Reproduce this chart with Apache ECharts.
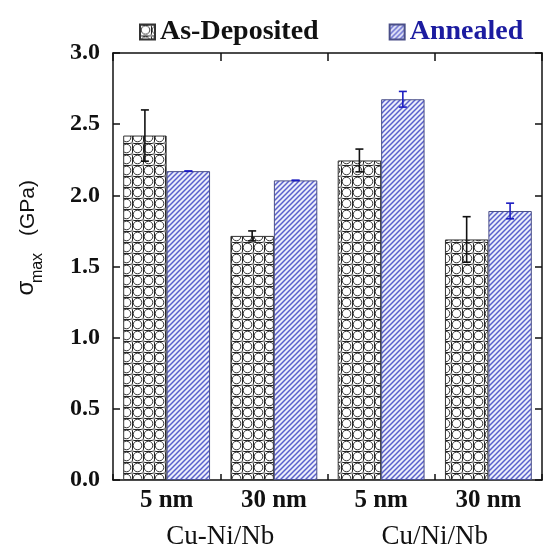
<!DOCTYPE html>
<html><head><meta charset="utf-8">
<script src="https://cdn.jsdelivr.net/npm/echarts@6/dist/echarts.min.js"></script>
<style>html,body{margin:0;padding:0;background:#fff}#c{width:543px;height:550px}</style>
</head><body><div id="c"></div>
<script>
const categories = ['5 nm', '30 nm', '5 nm', '30 nm'];
const groups = ['Cu-Ni/Nb', 'Cu/Ni/Nb'];
const deposited = [2.42, 1.715, 2.245, 1.69];
const depositedErr = [0.18, 0.035, 0.08, 0.16];
const annealed = [2.17, 2.105, 2.675, 1.89];
const annealedErr = [0, 0, 0.055, 0.055];
const yTicks = { min: 0, max: 3, interval: 0.5 };

function circlePattern() {
  const s = 11, c = document.createElement('canvas');
  c.width = s; c.height = s;
  const g = c.getContext('2d');
  g.fillStyle = '#fff'; g.fillRect(0, 0, s, s);
  g.strokeStyle = '#222'; g.lineWidth = 1;
  g.beginPath(); g.moveTo(0, 0.5); g.lineTo(s, 0.5); g.moveTo(0.5, 0); g.lineTo(0.5, s); g.stroke();
  g.fillStyle = '#fff';
  g.beginPath(); g.arc(5.5, 5.5, 4.3, 0, Math.PI * 2); g.fill();
  g.strokeStyle = '#333'; g.lineWidth = 1;
  g.beginPath(); g.arc(5.5, 5.5, 4.3, 0, Math.PI * 2); g.stroke();
  g.fillStyle = '#999';
  [[0, 0], [s, 0], [0, s], [s, s]].forEach(p => { g.beginPath(); g.arc(p[0], p[1], 1.6, 0, Math.PI * 2); g.fill(); });
  return c;
}
function hatchPattern() {
  const s = 5, c = document.createElement('canvas');
  c.width = s; c.height = s;
  const g = c.getContext('2d');
  g.fillStyle = '#eceefa'; g.fillRect(0, 0, s, s);
  g.strokeStyle = '#5a60cc'; g.lineWidth = 1.5;
  g.beginPath();
  g.moveTo(-1, s + 1); g.lineTo(s + 1, -1);
  g.moveTo(-1, 1); g.lineTo(1, -1);
  g.moveTo(s - 1, s + 1); g.lineTo(s + 1, s - 1);
  g.stroke();
  return c;
}

const GAP = 0.19;
function errRender(side, color) {
  return function (params, api) {
    const i = api.value(0);
    const lo = api.coord([i, api.value(1)]);
    const hi = api.coord([i, api.value(2)]);
    const band = api.size([1, 0])[0];
    const bw = band * (1 - GAP) / 2;
    const x = lo[0] + side * bw / 2;
    const cap = 4;
    const st = { stroke: color, lineWidth: 1.6 };
    return { type: 'group', children: [
      { type: 'line', shape: { x1: x, y1: lo[1], x2: x, y2: hi[1] }, style: st },
      { type: 'line', shape: { x1: x - cap, y1: lo[1], x2: x + cap, y2: lo[1] }, style: st },
      { type: 'line', shape: { x1: x - cap, y1: hi[1], x2: x + cap, y2: hi[1] }, style: st }
    ]};
  };
}

const serif = 'Liberation Serif';
const chart = echarts.init(document.getElementById('c'));
const axisLine = { show: true, lineStyle: { color: '#111', width: 1.5 } };
chart.setOption({
  animation: false,
  backgroundColor: '#fff',
  grid: { left: 113, right: 1, top: 53, bottom: 68, containLabel: false },
  legend: {
    top: 13, left: 134, itemWidth: 15, itemHeight: 15, itemGap: 70, icon: 'rect',
    textStyle: { fontFamily: serif, fontWeight: 'bold', fontSize: 28 },
    data: [
      { name: 'As-Deposited', textStyle: { color: '#111' } },
      { name: 'Annealed', textStyle: { color: '#1c1ca0' } }
    ]
  },
  xAxis: [
    { type: 'category', data: categories, position: 'bottom', axisLine,
      axisTick: { show: true, inside: true, length: 6, lineStyle: { color: '#111', width: 1.5 } },
      axisLabel: { margin: 8, fontFamily: serif, fontWeight: 'bold', fontSize: 25, color: '#111' } },
    { type: 'category', data: groups, position: 'bottom', axisLine: { show: false },
      axisTick: { show: false },
      axisLabel: { margin: 43, fontFamily: serif, fontSize: 27, color: '#111' } },
    { type: 'category', data: categories, position: 'top', axisLine,
      axisTick: { show: true, inside: true, length: 8, lineStyle: { color: '#111', width: 1.5 } },
      axisLabel: { show: false } }
  ],
  yAxis: [
    { type: 'value', min: yTicks.min, max: yTicks.max, interval: yTicks.interval, position: 'left',
      axisLine, splitLine: { show: false },
      axisTick: { show: true, inside: true, length: 7, lineStyle: { color: '#111', width: 1.5 } },
      axisLabel: { margin: 13, fontFamily: serif, fontWeight: 'bold', fontSize: 24, color: '#111',
        formatter: v => v.toFixed(1) } },
    { type: 'value', min: yTicks.min, max: yTicks.max, interval: yTicks.interval, position: 'right',
      axisLine, splitLine: { show: false },
      axisTick: { show: true, inside: true, length: 7, lineStyle: { color: '#111', width: 1.5 } },
      axisLabel: { show: false } }
  ],
  series: [
    { name: 'As-Deposited', type: 'bar', data: deposited, barGap: '0%', barCategoryGap: (GAP * 100) + '%',
      itemStyle: { color: { image: circlePattern(), repeat: 'repeat' }, borderColor: '#333', borderWidth: 1 } },
    { name: 'Annealed', type: 'bar', data: annealed, barGap: '0%', barCategoryGap: (GAP * 100) + '%',
      itemStyle: { color: { image: hatchPattern(), repeat: 'repeat' }, borderColor: '#4a4f88', borderWidth: 1 } },
    { type: 'custom', renderItem: errRender(-1, '#111'), z: 10,
      encode: { x: 0, y: [1, 2] },
      data: deposited.map((v, i) => [i, v - depositedErr[i], v + depositedErr[i]]) },
    { type: 'custom', renderItem: errRender(1, '#1c1cc0'), z: 10,
      encode: { x: 0, y: [1, 2] },
      data: annealed.map((v, i) => [i, v - annealedErr[i], v + annealedErr[i]]) }
  ],
  graphic: [
    { type: 'text', x: 26, y: 288, rotation: Math.PI / 2,
      style: { text: 'σ', font: '24px "Liberation Sans"', fill: '#111', align: 'center', verticalAlign: 'middle' } },
    { type: 'text', x: 38, y: 268, rotation: Math.PI / 2,
      style: { text: 'max', font: '16px "Liberation Sans"', fill: '#111', align: 'center', verticalAlign: 'middle' } },
    { type: 'text', x: 28, y: 208, rotation: Math.PI / 2,
      style: { text: '(GPa)', font: '21px "Liberation Sans"', fill: '#111', align: 'center', verticalAlign: 'middle' } }
  ]
});
</script></body></html>
